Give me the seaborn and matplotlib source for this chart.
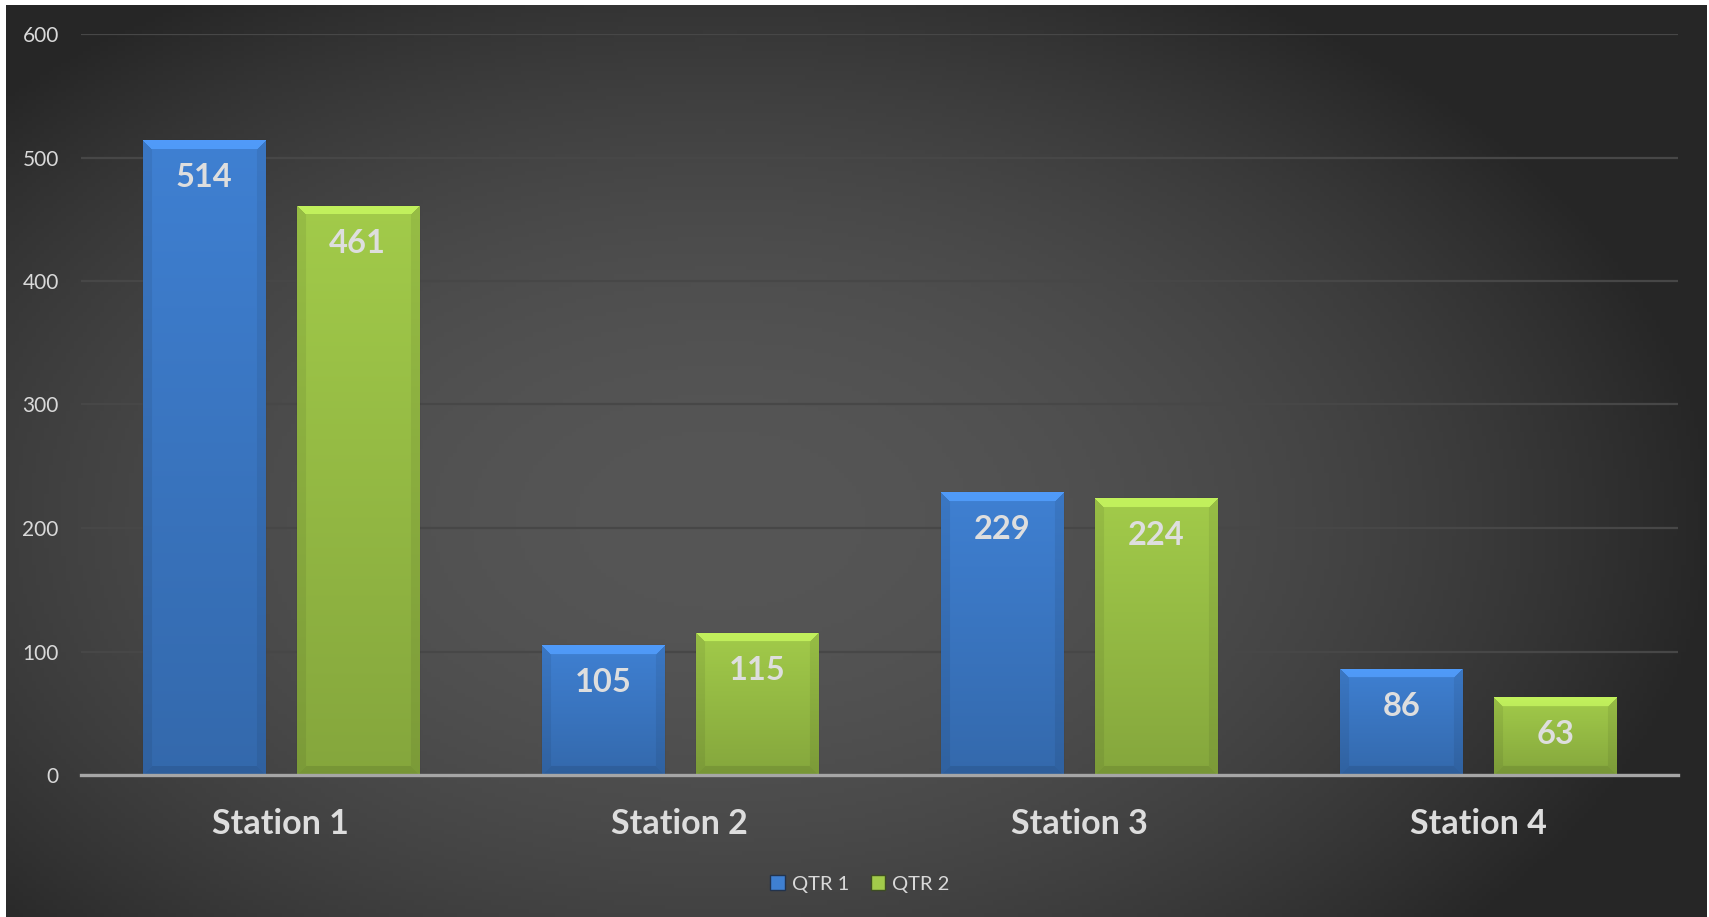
import numpy as np
import pandas as pd
import matplotlib
matplotlib.use("Agg")
import matplotlib.pyplot as plt
from matplotlib.patches import Patch
from matplotlib.colors import to_rgb
import seaborn as sns

# chart data
stations = ["Station 1", "Station 2", "Station 3", "Station 4"]
quarters = ["QTR 1", "QTR 2"]
qtr1 = [514, 105, 229, 86]
qtr2 = [461, 115, 224, 63]
y_ticks = [0, 100, 200, 300, 400, 500, 600]

df = pd.DataFrame({
    "Station": stations * 2,
    "Quarter": [quarters[0]] * len(stations) + [quarters[1]] * len(stations),
    "Value": qtr1 + qtr2,
})

sns.set_style("dark")
plt.rcParams["font.family"] = ["Lato", "DejaVu Sans"]

W, H = 1709, 917
fig = plt.figure(figsize=(W / 100, H / 100), dpi=100)
fig.patch.set_facecolor("white")

# dark panel with a soft radial light in the middle
bg = fig.add_axes([6 / W, 0, (1707 - 6) / W, (917 - 5) / H])
bg.set_axis_off()
gx, gy = np.meshgrid(np.linspace(6, 1707, 400), np.linspace(5, 917, 220))
t = np.clip(np.sqrt(((gx - 720) / 1000) ** 2 + ((gy - 520) / 620) ** 2), 0, 1) ** 2
shade = (0x56 + (0x26 - 0x56) * t) / 255
bg.imshow(np.dstack([shade] * 3), aspect="auto", extent=(0, 1, 0, 1), origin="upper")
bg.set_xlim(0, 1)
bg.set_ylim(0, 1)

ax = fig.add_axes([81 / W, (917 - 775) / H, (1678 - 81) / W, (775 - 34) / H])
ax.set_facecolor("none")

blue = "#3F80D2"
green = "#A2CB4A"
sns.barplot(data=df, x="Station", y="Value", hue="Quarter", hue_order=quarters,
            palette=[blue, green], width=0.772, gap=0.208, legend=False, ax=ax,
            saturation=1, zorder=2)

ax.set_ylim(0, 600)
ax.set_xlim(-0.5, len(stations) - 0.5)
ax.set_yticks(y_ticks)
ax.set_axisbelow(True)
ax.yaxis.grid(True, color="#474747", lw=1.6)
ax.xaxis.grid(False)
for s in ["top", "left", "right"]:
    ax.spines[s].set_visible(False)
ax.spines["bottom"].set_color("#A6A6A6")
ax.spines["bottom"].set_linewidth(2.4)
ax.spines["bottom"].set_zorder(5)
ax.set_xlabel("")
ax.set_ylabel("")
ax.tick_params(axis="y", length=0, pad=16, labelsize=15, labelcolor="#D9D9D9")
ax.tick_params(axis="x", length=0, pad=24, labelsize=24.5, labelcolor="#DDDDDD")
for lab in ax.get_xticklabels():
    lab.set_fontweight("bold")

# px per data unit, used for the bevel
px_per_unit = (775 - 34) / 600


def bevel_image(base, h_px, w_px, bevel=9):
    top = np.array(to_rgb(base))
    r = np.linspace(0, 1, h_px)[:, None, None]
    img = top * (1 - 0.18 * r) + np.zeros((1, w_px, 3))
    yy, xx = np.mgrid[0:h_px, 0:w_px]
    dt, db = yy, h_px - 1 - yy
    dl, dr = xx, w_px - 1 - xx
    dmin = np.minimum(np.minimum(dt, db), np.minimum(dl, dr))
    top_m = (dt == dmin) & (dt < bevel)
    side_m = ((dl == dmin) | (dr == dmin)) & (dmin < bevel) & ~top_m
    bot_m = (db == dmin) & (db < bevel) & ~top_m & ~side_m
    img[top_m] = np.clip(img[top_m] * 1.15 + 0.03, 0, 1)
    img[side_m] = img[side_m] * 0.93
    img[bot_m] = img[bot_m] * 0.9
    return img


for patch in list(ax.patches):
    x0, w, h = patch.get_x(), patch.get_width(), patch.get_height()
    if h <= 0:
        continue
    color = patch.get_facecolor()
    h_px = max(int(h * px_per_unit), 2)
    w_px = 122
    im = ax.imshow(bevel_image(color[:3], h_px, w_px), extent=(x0, x0 + w, 0, h),
                   aspect="auto", origin="upper", zorder=3, interpolation="bilinear")
    im.set_clip_path(patch)
    patch.set_edgecolor("#222222")
    patch.set_linewidth(0.8)
    ax.annotate(f"{h:.0f}", xy=(x0 + w / 2, h), xytext=(0, -27),
                textcoords="offset points", ha="center", va="center",
                fontsize=23.5, fontweight="bold", color="#DEDEDE", zorder=6)

ax.set_ylim(0, 600)
ax.set_xlim(-0.5, len(stations) - 0.5)

handles = [Patch(facecolor=blue, edgecolor="#22334d"), Patch(facecolor=green, edgecolor="#3d4d22")]
leg = fig.legend(handles, quarters, loc="center", bbox_to_anchor=(860 / W, 1 - 884 / H),
                 ncol=2, frameon=False, fontsize=14.5, handlelength=0.7, handleheight=0.7,
                 handletextpad=0.35, columnspacing=1.1)
for txt in leg.get_texts():
    txt.set_color("#D9D9D9")

fig.savefig("out.png", dpi=100)
